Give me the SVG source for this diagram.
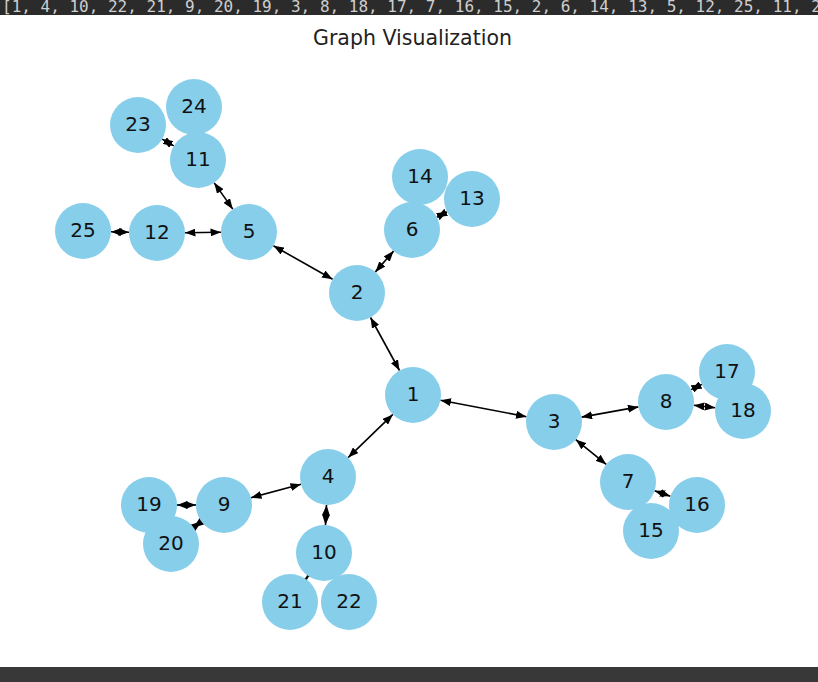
<svg xmlns="http://www.w3.org/2000/svg" width="818" height="682" viewBox="0 0 818 682">
<style>
.node circle{fill:#87ceeb;}
.node text{font-family:"DejaVu Sans",sans-serif;font-size:20px;fill:#111;text-anchor:middle;}
.edge{stroke:#000;stroke-width:1.6;fill:none;marker-start:url(#ah);marker-end:url(#ah);}
.title{font-family:"DejaVu Sans",sans-serif;font-size:20.5px;fill:#222;text-anchor:middle;}
.bar{font-family:"DejaVu Sans Mono",monospace;font-size:16px;fill:#cfcfcf;}
</style>
<defs>
<marker id="ah" viewBox="0 0 10.5 8" refX="10.5" refY="4" markerWidth="10.5" markerHeight="8" markerUnits="userSpaceOnUse" orient="auto-start-reverse">
<path d="M0,0 L10.5,4 L0,8 z" fill="#000"/>
</marker>
</defs>
<rect x="0" y="0" width="818" height="682" fill="#fff"/>
<rect x="0" y="0" width="818" height="15" fill="#2b2b2b"/>
<text class="bar" x="2" y="12">[1, 4, 10, 22, 21, 9, 20, 19, 3, 8, 18, 17, 7, 16, 15, 2, 6, 14, 13, 5, 12, 25, 11, 2</text>
<rect x="0" y="667" width="818" height="15" fill="#383838"/>
<text class="title" x="412.5" y="45">Graph Visualization</text>
<g id="connectors">
<line class="edge" x1="399.5" y1="370.5" x2="370.5" y2="317.5"/>
<line class="edge" x1="440.5" y1="400.3" x2="526.5" y2="416.7"/>
<line class="edge" x1="392.85" y1="414.44" x2="348.15" y2="457.56"/>
<line class="edge" x1="332.6" y1="279.2" x2="273.4" y2="245.8"/>
<line class="edge" x1="375.4" y1="271.9" x2="393.6" y2="251.1"/>
<line class="edge" x1="232.8" y1="209.15" x2="214.2" y2="182.85"/>
<line class="edge" x1="221" y1="232.3" x2="185" y2="232.7"/>
<line class="edge" x1="129" y1="232.24" x2="111" y2="231.76"/>
<line class="edge" x1="173.8" y1="145.9" x2="162.2" y2="139.1"/>
<line class="edge" x1="436.9" y1="217.15" x2="447.1" y2="211.85"/>
<line class="edge" x1="581.6" y1="417.1" x2="638.4" y2="406.9"/>
<line class="edge" x1="575.75" y1="439.6" x2="606.25" y2="464.4"/>
<line class="edge" x1="691.1" y1="389.6" x2="701.9" y2="384.4"/>
<line class="edge" x1="693.8" y1="405.25" x2="715.2" y2="407.75"/>
<line class="edge" x1="654.6" y1="490.85" x2="670.4" y2="496.15"/>
<line class="edge" x1="301" y1="484.3" x2="251" y2="497.7"/>
<line class="edge" x1="326.5" y1="505" x2="325.5" y2="525"/>
<line class="edge" x1="196" y1="505" x2="177" y2="505"/>
<line class="edge" x1="201.45" y1="521.6" x2="193.45" y2="527.4"/>
<line class="edge" x1="308.04" y1="576" x2="305.96" y2="579"/>
</g>
<g id="node1" class="node"><circle cx="413" cy="395" r="28"/><text x="413" y="401">1</text></g>
<g id="node2" class="node"><circle cx="357" cy="293" r="28"/><text x="357" y="299">2</text></g>
<g id="node3" class="node"><circle cx="554" cy="422" r="28"/><text x="554" y="428">3</text></g>
<g id="node4" class="node"><circle cx="328" cy="477" r="28"/><text x="328" y="483">4</text></g>
<g id="node5" class="node"><circle cx="249" cy="232" r="28"/><text x="249" y="238">5</text></g>
<g id="node6" class="node"><circle cx="412" cy="230" r="28"/><text x="412" y="236">6</text></g>
<g id="node7" class="node"><circle cx="628" cy="482" r="28"/><text x="628" y="488">7</text></g>
<g id="node8" class="node"><circle cx="666" cy="402" r="28"/><text x="666" y="408">8</text></g>
<g id="node9" class="node"><circle cx="224" cy="505" r="28"/><text x="224" y="511">9</text></g>
<g id="node10" class="node"><circle cx="324" cy="553" r="28"/><text x="324" y="559">10</text></g>
<g id="node11" class="node"><circle cx="198" cy="160" r="28"/><text x="198" y="166">11</text></g>
<g id="node12" class="node"><circle cx="157" cy="233" r="28"/><text x="157" y="239">12</text></g>
<g id="node13" class="node"><circle cx="472" cy="199" r="28"/><text x="472" y="205">13</text></g>
<g id="node14" class="node"><circle cx="420" cy="177" r="28"/><text x="420" y="183">14</text></g>
<g id="node15" class="node"><circle cx="651" cy="531" r="28"/><text x="651" y="537">15</text></g>
<g id="node16" class="node"><circle cx="697" cy="505" r="28"/><text x="697" y="511">16</text></g>
<g id="node17" class="node"><circle cx="727" cy="372" r="28"/><text x="727" y="378">17</text></g>
<g id="node18" class="node"><circle cx="743" cy="411" r="28"/><text x="743" y="417">18</text></g>
<g id="node19" class="node"><circle cx="149" cy="505" r="28"/><text x="149" y="511">19</text></g>
<g id="node20" class="node"><circle cx="171" cy="544" r="28"/><text x="171" y="550">20</text></g>
<g id="node21" class="node"><circle cx="290" cy="602" r="28"/><text x="290" y="608">21</text></g>
<g id="node22" class="node"><circle cx="349" cy="602" r="28"/><text x="349" y="608">22</text></g>
<g id="node23" class="node"><circle cx="138" cy="125" r="28"/><text x="138" y="131">23</text></g>
<g id="node24" class="node"><circle cx="194" cy="107" r="28"/><text x="194" y="113">24</text></g>
<g id="node25" class="node"><circle cx="83" cy="231" r="28"/><text x="83" y="237">25</text></g>
</svg>
